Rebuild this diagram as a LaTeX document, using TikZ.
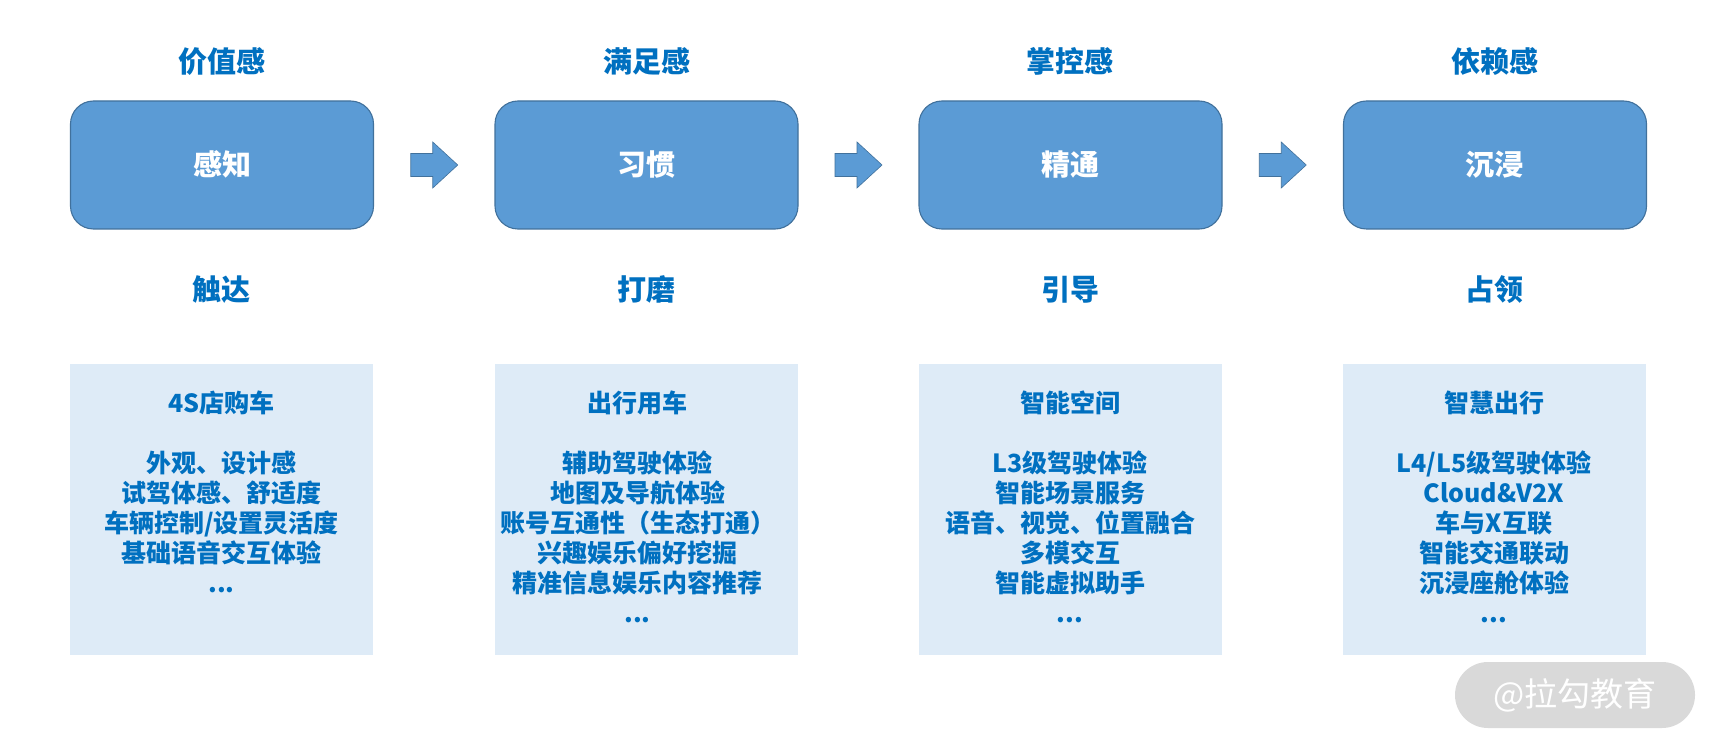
\documentclass[tikz,border=0pt]{standalone}
\usepackage{fontspec}
\newfontfamily\cjk{Noto Sans CJK SC}
\usetikzlibrary{calc}
\definecolor{boxblue}{HTML}{5B9BD5}
\definecolor{boxborder}{HTML}{41719C}
\definecolor{lightblue}{HTML}{DEEBF7}
\definecolor{labelblue}{HTML}{0070C0}
\definecolor{wmgrey}{HTML}{D9D9D9}
\begin{document}
\begin{tikzpicture}[x=1pt,y=-1pt,
  stage/.style={draw=boxborder, fill=boxblue, rounded corners=23pt, line width=1.1pt, minimum width=303pt, minimum height=128pt, inner sep=0pt},
  detail/.style={fill=lightblue, minimum width=303pt, minimum height=291pt, inner sep=0pt},
  headlabel/.style={font=\cjk\fontsize{29}{29}\selectfont\bfseries, text=labelblue, anchor=base, inner sep=0pt},
  stagelabel/.style={font=\cjk\fontsize{29}{29}\selectfont\bfseries, text=white, anchor=base, inner sep=0pt},
  item/.style={font=\cjk\fontsize{25}{25}\selectfont\bfseries, text=labelblue, anchor=base, inner sep=0pt},
  blockarrow/.style={fill=boxblue, draw=boxborder, line width=0.6pt},
  wm/.style={fill=wmgrey, rounded corners=33pt, minimum width=240pt, minimum height=66pt, inner sep=0pt, text=white, font=\cjk\fontsize{33}{33}\selectfont}]
\useasboundingbox (0,0) rectangle (1720,751);
\fill[white] (0,0) rectangle (1720,751);

% stage boxes
\node[stage] (s1) at (222,165) {};
\node[stage] (s2) at (646.5,165) {};
\node[stage] (s3) at (1070.5,165) {};
\node[stage] (s4) at (1495,165) {};
\node[stagelabel] (s1t) at (222,176) {感知};
\node[stagelabel] (s2t) at (646.5,176) {习惯};
\node[stagelabel] (s3t) at (1070,176) {精通};
\node[stagelabel] (s4t) at (1494.5,176) {沉浸};

% top labels
\node[headlabel] (h1) at (221.5,73) {价值感};
\node[headlabel] (h2) at (646.5,73) {满足感};
\node[headlabel] (h3) at (1070,73) {掌控感};
\node[headlabel] (h4) at (1494.5,73) {依赖感};

% bottom labels
\node[headlabel] (b1) at (221.5,300) {触达};
\node[headlabel] (b2) at (646.5,300) {打磨};
\node[headlabel] (b3) at (1070,300) {引导};
\node[headlabel] (b4) at (1494.5,300) {占领};

% arrows
\coordinate (m1) at ($(s1.east)!0.5!(s2.west)$);
\coordinate (m2) at ($(s2.east)!0.5!(s3.west)$);
\coordinate (m3) at ($(s3.east)!0.5!(s4.west)$);
\foreach \m in {m1,m2,m3}{
  \draw[blockarrow, shift={(\m)}] (-23.5,-11.5) -- (-1.5,-11.5) -- (-1.5,-23) -- (23.5,0) -- (-1.5,23) -- (-1.5,11.5) -- (-23.5,11.5) -- cycle;
}

% detail boxes
\node[detail] (d1) at (221.5,509.5) {};
\node[detail] (d2) at (646,509.5) {};
\node[detail] (d3) at (1070,509.5) {};
\node[detail] (d4) at (1494,509.5) {};

% column 1
\node[item] (d1t) at (221.5,412.5) {4S店购车};
\foreach \t [count=\k] in {外观、设计感, 试驾体感、舒适度, {车辆控制/设置灵活度}, 基础语音交互体验}
  \node[item] (d1-\k) at (221.5,{472.5+30*(\k-1)}) {\t};
\node[item] (d1dots) at (221.5,592.5) {...};

% column 2
\node[item] (d2t) at (637.5,412.5) {出行用车};
\foreach \t [count=\k] in {辅助驾驶体验, 地图及导航体验, 账号互通性（生态打通）, 兴趣娱乐偏好挖掘, 精准信息娱乐内容推荐}
  \node[item] (d2-\k) at (637.5,{472.5+30*(\k-1)}) {\t};
\node[item] (d2dots) at (637.5,622.5) {...};

% column 3
\node[item] (d3t) at (1070,412.5) {智能空间};
\foreach \t [count=\k] in {L3级驾驶体验, 智能场景服务, 语音、视觉、位置融合, 多模交互, 智能虚拟助手}
  \node[item] (d3-\k) at (1070,{472.5+30*(\k-1)}) {\t};
\node[item] (d3dots) at (1070,622.5) {...};

% column 4
\node[item] (d4t) at (1494,412.5) {智慧出行};
\foreach \t [count=\k] in {{L4/L5级驾驶体验}, Cloud\&V2X, 车与X互联, 智能交通联动, 沉浸座舱体验}
  \node[item] (d4-\k) at (1494,{472.5+30*(\k-1)}) {\t};
\node[item] (d4dots) at (1494,622.5) {...};

% watermark
\node[wm] (wmark) at (1575,695) {@拉勾教育};
\end{tikzpicture}
\end{document}
